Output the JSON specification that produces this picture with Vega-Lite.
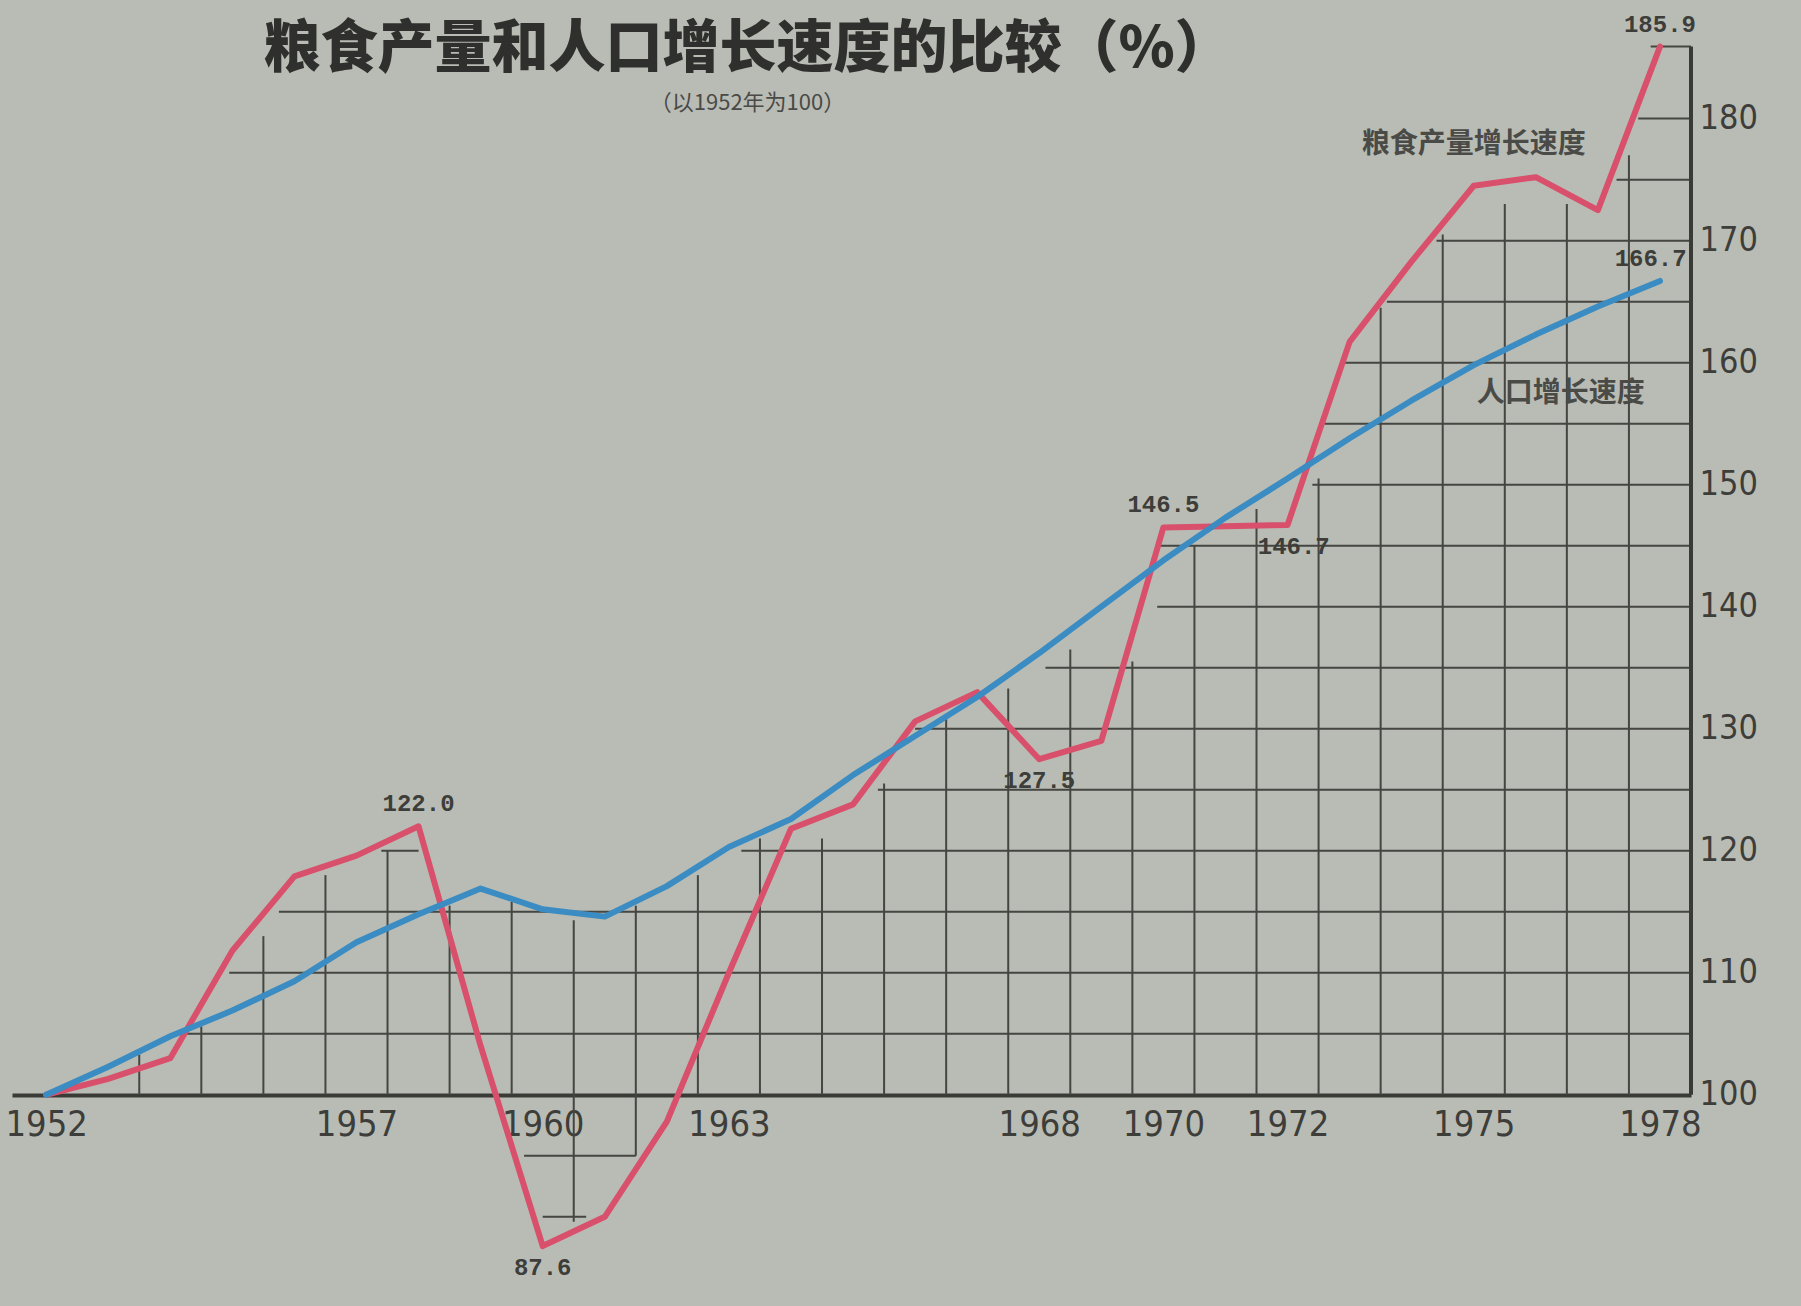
{
  "$schema": "https://vega.github.io/schema/vega-lite/v6.json",
  "width": 1679,
  "height": 1269,
  "autosize": {"type": "none"},
  "padding": {"left": 12, "top": 21, "right": 110, "bottom": 16},
  "background": "#b9bcb4",
  "config": {"view": {"stroke": null}},
  "title": {
    "text": "粮食产量和人口增长速度的比较（%）",
    "subtitle": "（以1952年为100）",
    "anchor": "middle",
    "frame": "group",
    "orient": "top",
    "offset": 0,
    "dx": -104,
    "dy": 102,
    "font": "Noto Sans CJK SC",
    "fontSize": 57,
    "fontWeight": 900,
    "color": "#2f2f2d",
    "subtitleFont": "Noto Sans CJK SC",
    "subtitleFontSize": 22,
    "subtitleColor": "#4a4a47",
    "subtitlePadding": 14
  },
  "datasets": {
    "series": [
      {"year": 1952, "value": 100.0, "series": "粮食产量增长速度"},
      {"year": 1953, "value": 101.3, "series": "粮食产量增长速度"},
      {"year": 1954, "value": 103.0, "series": "粮食产量增长速度"},
      {"year": 1955, "value": 111.8, "series": "粮食产量增长速度"},
      {"year": 1956, "value": 117.9, "series": "粮食产量增长速度"},
      {"year": 1957, "value": 119.6, "series": "粮食产量增长速度"},
      {"year": 1958, "value": 122.0, "series": "粮食产量增长速度"},
      {"year": 1959, "value": 104.0, "series": "粮食产量增长速度"},
      {"year": 1960, "value": 87.6, "series": "粮食产量增长速度"},
      {"year": 1961, "value": 90.0, "series": "粮食产量增长速度"},
      {"year": 1962, "value": 97.8, "series": "粮食产量增长速度"},
      {"year": 1963, "value": 110.0, "series": "粮食产量增长速度"},
      {"year": 1964, "value": 121.8, "series": "粮食产量增长速度"},
      {"year": 1965, "value": 123.8, "series": "粮食产量增长速度"},
      {"year": 1966, "value": 130.6, "series": "粮食产量增长速度"},
      {"year": 1967, "value": 133.0, "series": "粮食产量增长速度"},
      {"year": 1968, "value": 127.5, "series": "粮食产量增长速度"},
      {"year": 1969, "value": 129.0, "series": "粮食产量增长速度"},
      {"year": 1970, "value": 146.5, "series": "粮食产量增长速度"},
      {"year": 1971, "value": 146.6, "series": "粮食产量增长速度"},
      {"year": 1972, "value": 146.7, "series": "粮食产量增长速度"},
      {"year": 1973, "value": 161.7, "series": "粮食产量增长速度"},
      {"year": 1974, "value": 168.3, "series": "粮食产量增长速度"},
      {"year": 1975, "value": 174.5, "series": "粮食产量增长速度"},
      {"year": 1976, "value": 175.2, "series": "粮食产量增长速度"},
      {"year": 1977, "value": 172.5, "series": "粮食产量增长速度"},
      {"year": 1978, "value": 185.9, "series": "粮食产量增长速度"},
      {"year": 1952, "value": 100.0, "series": "人口增长速度"},
      {"year": 1953, "value": 102.3, "series": "人口增长速度"},
      {"year": 1954, "value": 104.8, "series": "人口增长速度"},
      {"year": 1955, "value": 106.9, "series": "人口增长速度"},
      {"year": 1956, "value": 109.3, "series": "人口增长速度"},
      {"year": 1957, "value": 112.5, "series": "人口增长速度"},
      {"year": 1958, "value": 114.8, "series": "人口增长速度"},
      {"year": 1959, "value": 116.9, "series": "人口增长速度"},
      {"year": 1960, "value": 115.2, "series": "人口增长速度"},
      {"year": 1961, "value": 114.6, "series": "人口增长速度"},
      {"year": 1962, "value": 117.1, "series": "人口增长速度"},
      {"year": 1963, "value": 120.3, "series": "人口增长速度"},
      {"year": 1964, "value": 122.6, "series": "人口增长速度"},
      {"year": 1965, "value": 126.2, "series": "人口增长速度"},
      {"year": 1966, "value": 129.4, "series": "人口增长速度"},
      {"year": 1967, "value": 132.6, "series": "人口增长速度"},
      {"year": 1968, "value": 136.2, "series": "人口增长速度"},
      {"year": 1969, "value": 140.0, "series": "人口增长速度"},
      {"year": 1970, "value": 143.8, "series": "人口增长速度"},
      {"year": 1971, "value": 147.3, "series": "人口增长速度"},
      {"year": 1972, "value": 150.5, "series": "人口增长速度"},
      {"year": 1973, "value": 153.8, "series": "人口增长速度"},
      {"year": 1974, "value": 156.9, "series": "人口增长速度"},
      {"year": 1975, "value": 159.8, "series": "人口增长速度"},
      {"year": 1976, "value": 162.3, "series": "人口增长速度"},
      {"year": 1977, "value": 164.6, "series": "人口增长速度"},
      {"year": 1978, "value": 166.7, "series": "人口增长速度"}
    ],
    "vgrid": [
      {"year": 1953.5, "value": 100, "top": 103.3},
      {"year": 1954.5, "value": 100, "top": 105.6},
      {"year": 1955.5, "value": 100, "top": 113.0},
      {"year": 1956.5, "value": 100, "top": 118.0},
      {"year": 1957.5, "value": 100, "top": 120.0},
      {"year": 1958.5, "value": 100, "top": 115.5},
      {"year": 1959.5, "value": 100, "top": 115.8},
      {"year": 1960.5, "value": 89.6, "top": 114.3},
      {"year": 1961.5, "value": 95, "top": 115.5},
      {"year": 1962.5, "value": 100, "top": 118.0},
      {"year": 1963.5, "value": 100, "top": 121.0},
      {"year": 1964.5, "value": 100, "top": 121.0},
      {"year": 1965.5, "value": 100, "top": 125.5},
      {"year": 1966.5, "value": 100, "top": 131.0},
      {"year": 1967.5, "value": 100, "top": 133.3},
      {"year": 1968.5, "value": 100, "top": 136.5},
      {"year": 1969.5, "value": 100, "top": 135.5},
      {"year": 1970.5, "value": 100, "top": 145.0},
      {"year": 1971.5, "value": 100, "top": 148.0},
      {"year": 1972.5, "value": 100, "top": 150.5},
      {"year": 1973.5, "value": 100, "top": 164.5},
      {"year": 1974.5, "value": 100, "top": 170.5},
      {"year": 1975.5, "value": 100, "top": 173.0},
      {"year": 1976.5, "value": 100, "top": 173.0},
      {"year": 1977.5, "value": 100, "top": 177.0}
    ],
    "hgrid": [
      {"value": 90, "year": 1960.0, "end": 1960.7},
      {"value": 95, "year": 1959.7, "end": 1961.5},
      {"value": 105, "year": 1954.2, "end": 1978.5},
      {"value": 110, "year": 1954.95, "end": 1978.5},
      {"value": 115, "year": 1955.75, "end": 1978.5},
      {"value": 120, "year": 1957.4, "end": 1958.0},
      {"value": 120, "year": 1963.2, "end": 1978.5},
      {"value": 125, "year": 1965.4, "end": 1978.5},
      {"value": 130, "year": 1966.0, "end": 1978.5},
      {"value": 135, "year": 1968.1, "end": 1978.5},
      {"value": 140, "year": 1969.9, "end": 1978.5},
      {"value": 145, "year": 1969.95, "end": 1978.5},
      {"value": 150, "year": 1972.4, "end": 1978.5},
      {"value": 155, "year": 1972.6, "end": 1978.5},
      {"value": 160, "year": 1972.9, "end": 1978.5},
      {"value": 165, "year": 1973.6, "end": 1978.5},
      {"value": 170, "year": 1974.4, "end": 1978.5},
      {"value": 175, "year": 1977.3, "end": 1978.5},
      {"value": 180, "year": 1977.65, "end": 1978.5},
      {"value": 185.9, "year": 1977.85, "end": 1978.5}
    ],
    "raxis": [
      {"year": 1978.5, "value": 100, "top": 185.9}
    ],
    "above": [
      {"year": 1958, "value": 122.0, "label": "122.0"},
      {"year": 1970, "value": 146.5, "label": "146.5"},
      {"year": 1978, "value": 185.9, "label": "185.9"},
      {"year": 1977.85, "value": 166.7, "label": "166.7"}
    ],
    "below": [
      {"year": 1960, "value": 87.6, "label": "87.6"},
      {"year": 1968, "value": 127.5, "label": "127.5"},
      {"year": 1972.1, "value": 146.7, "label": "146.7"}
    ],
    "names": [
      {"year": 1975.0, "value": 177.8, "label": "粮食产量增长速度"},
      {"year": 1976.4, "value": 157.4, "label": "人口增长速度"}
    ]
  },
  "encoding": {
    "x": {
      "field": "year",
      "type": "quantitative",
      "scale": {"domain": [1951.45, 1978.5], "nice": false, "zero": false},
      "axis": {
        "orient": "bottom",
        "values": [1952, 1957, 1960, 1963, 1968, 1970, 1972, 1975, 1978],
        "format": "d",
        "offset": -195,
        "title": null,
        "grid": false,
        "ticks": false,
        "domain": true,
        "domainColor": "#3a3a37",
        "domainWidth": 4,
        "labelFont": "Liberation Sans Narrow, DejaVu Sans Condensed, Liberation Sans",
        "labelFontSize": 36,
        "labelColor": "#3d3d3a",
        "labelPadding": 12
      }
    },
    "y": {
      "field": "value",
      "type": "quantitative",
      "scale": {"domain": [84, 188], "nice": false, "zero": false},
      "axis": {
        "orient": "right",
        "values": [100, 110, 120, 130, 140, 150, 160, 170, 180],
        "title": null,
        "grid": false,
        "ticks": false,
        "domain": false,
        "labelFont": "Liberation Sans Narrow, DejaVu Sans Condensed, Liberation Sans",
        "labelFontSize": 34,
        "labelColor": "#3d3d3a",
        "labelPadding": 8
      }
    }
  },
  "layer": [
    {
      "data": {"name": "vgrid"},
      "mark": {"type": "rule", "color": "#454541", "strokeWidth": 2},
      "encoding": {"y2": {"field": "top"}}
    },
    {
      "data": {"name": "hgrid"},
      "mark": {"type": "rule", "color": "#454541", "strokeWidth": 2},
      "encoding": {"x2": {"field": "end"}}
    },
    {
      "data": {"name": "raxis"},
      "mark": {"type": "rule", "color": "#3a3a37", "strokeWidth": 4},
      "encoding": {"y2": {"field": "top"}}
    },
    {
      "data": {"name": "series"},
      "mark": {"type": "line", "strokeWidth": 6, "strokeJoin": "round", "strokeCap": "round"},
      "encoding": {
        "color": {
          "field": "series",
          "type": "nominal",
          "scale": {"domain": ["粮食产量增长速度", "人口增长速度"], "range": ["#d8506b", "#3a8cc2"]},
          "legend": null
        }
      }
    },
    {
      "data": {"name": "above"},
      "mark": {"type": "text", "font": "Liberation Mono", "fontSize": 24, "fontWeight": "bold", "color": "#3d3d3a", "baseline": "middle", "dy": -22},
      "encoding": {"text": {"field": "label"}}
    },
    {
      "data": {"name": "below"},
      "mark": {"type": "text", "font": "Liberation Mono", "fontSize": 24, "fontWeight": "bold", "color": "#3d3d3a", "baseline": "middle", "dy": 22},
      "encoding": {"text": {"field": "label"}}
    },
    {
      "data": {"name": "names"},
      "mark": {"type": "text", "font": "Noto Sans CJK SC", "fontSize": 28, "fontWeight": "bold", "color": "#4a4a47", "baseline": "middle"},
      "encoding": {"text": {"field": "label"}}
    }
  ]
}
